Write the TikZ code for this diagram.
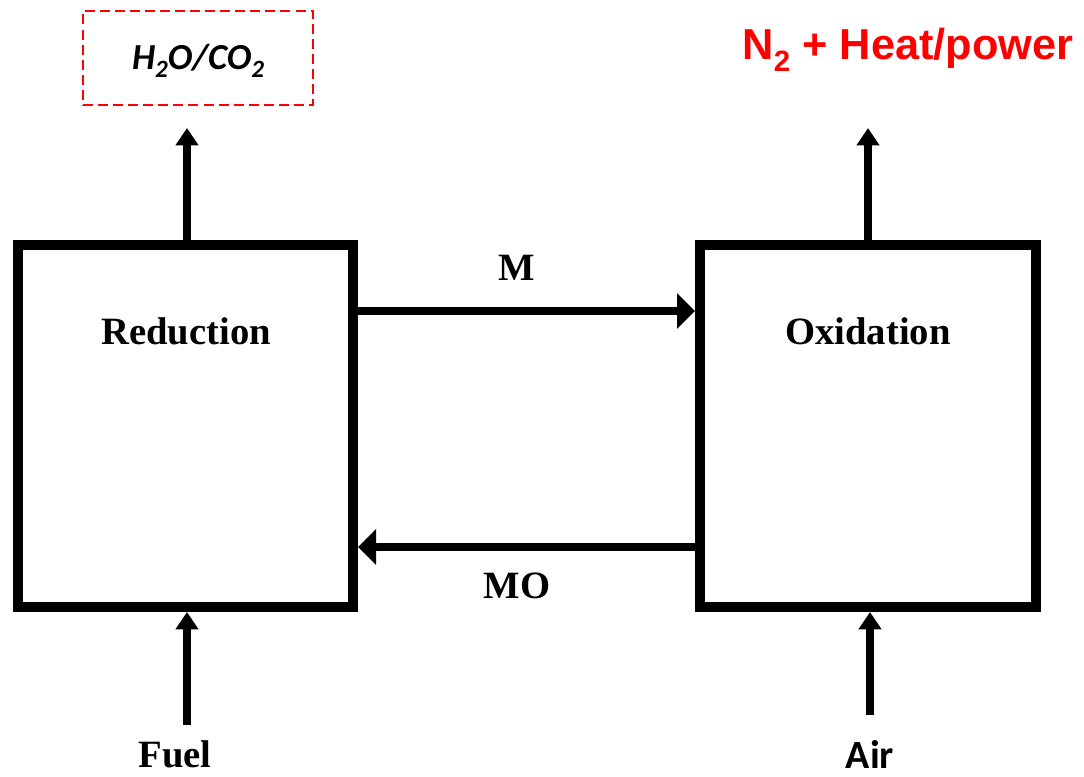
\documentclass[tikz,border=0pt]{standalone}
\usepackage{fontspec}
\setmainfont{Liberation Serif}
\newfontfamily\calfont{Carlito}
\newfontfamily\arialfont{Liberation Sans}
\usetikzlibrary{arrows.meta}
\definecolor{hotred}{RGB}{255,0,0}
\newcommand\lowsub[2]{\raisebox{-#2}{\scalebox{0.68}{#1}}}
\begin{document}
\begin{tikzpicture}[x=0.75pt,y=-0.75pt,
  reactor/.style={draw=black,line width=7.5pt,minimum width=251.25pt,minimum height=271.5pt,inner sep=0pt},
  lbl/.style={font=\fontsize{29}{32}\selectfont\bfseries,anchor=base,inner sep=0pt},
  harrow/.style={line width=5.5pt,-{Triangle[width=26pt,length=13.5pt]}},
  varrow/.style={line width=6pt,-{Triangle[width=16.5pt,length=13pt]}},
  prodbox/.style={draw=hotred,line width=2.2pt,dash pattern=on 7.5pt off 3.8pt,minimum width=172.5pt,minimum height=70.5pt}]
\useasboundingbox (0,0) rectangle (1084,777);
\node[reactor] (lbox) at (185.5,426) {};
\node[reactor,minimum width=252pt] (rbox) at (868,426) {};
\node[lbl] (red) at (186,344) {Reduction};
\node[lbl] (oxi) at (868,344) {Oxidation};
\node[lbl] (mlab) at (517,280) {M};
\node[lbl] (molab) at (517,598) {MO};
\node[lbl] (fuel) at (175,767) {Fuel};
\node[lbl,text depth=0pt,font=\fontsize{30}{32}\selectfont\calfont\bfseries] (air) at (870,768) {Air};
\node[prodbox] (prod) at (198,58) {};
\node[anchor=base,inner sep=0pt,font=\fontsize{27.5}{30}\selectfont\calfont\bfseries\itshape] (prodtxt) at (198,70) {H\lowsub{2}{6pt}O/CO\lowsub{2}{6pt}};
\node[anchor=base,inner sep=0pt,text=hotred,font=\fontsize{32.5}{34}\selectfont\arialfont\bfseries] (heat) at (908,60) {N\lowsub{2}{9pt} + Heat/power};
\coordinate (lout) at (187,128);
\coordinate (rout) at (868,128);
\coordinate (fin) at (187,725);
\coordinate (ain) at (870,715);
\draw[harrow] (lbox.east |- 0,311) -- (rbox.west |- 0,311);
\draw[harrow] (rbox.west |- 0,547) -- (lbox.east |- 0,547);
\draw[varrow] (lbox.north -| lout) -- (lout);
\draw[varrow] (rbox.north -| rout) -- (rout);
\draw[varrow] (fin) -- (lbox.south -| fin);
\draw[varrow] (ain) -- (rbox.south -| ain);
\end{tikzpicture}
\end{document}
